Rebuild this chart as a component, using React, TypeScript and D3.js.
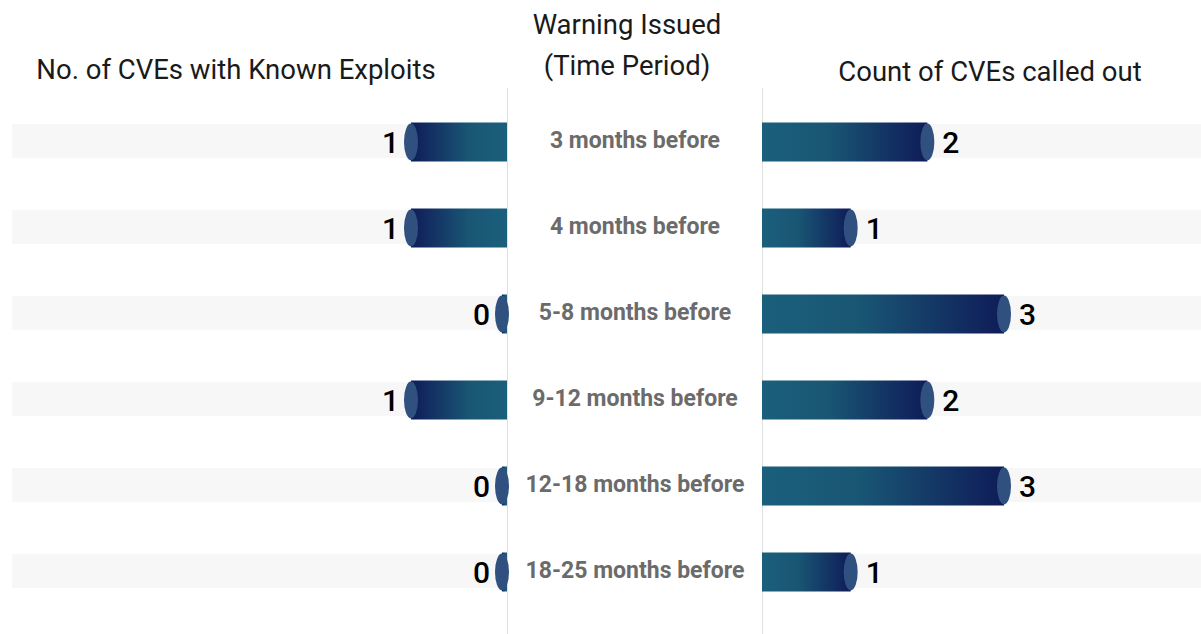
import React from "react";
import * as d3 from "d3";

const categories = [
  "3 months before",
  "4 months before",
  "5-8 months before",
  "9-12 months before",
  "12-18 months before",
  "18-25 months before",
];
const knownExploits = [1, 1, 0, 1, 0, 0];
const calledOut = [2, 1, 3, 2, 3, 1];

const W = 1201;
const H = 634;
const leftEdge = 507;
const rightEdge = 762;

export default function App() {
  const y = d3.scalePoint<string>().domain(categories).range([141, 571]);
  const xL = d3.scaleLinear().domain([0, 1]).range([0, 96]);
  const xR = d3.scaleLinear().domain([0, 3]).range([12, 242]);
  const barH = 39;
  const bandH = 34;
  const rx = 7;
  const minLen = 5;
  const font = "Roboto, 'Noto Sans', sans-serif";

  return (
    <svg width={W} height={H} style={{ position: "absolute", left: 0, top: 0 }} fontFamily={font}>
      <defs>
        <linearGradient id="gl" x1="0" x2="1" y1="0" y2="0">
          <stop offset="0" stopColor="#0f1c58" />
          <stop offset="0.6" stopColor="#195674" />
          <stop offset="1" stopColor="#1a5f7c" />
        </linearGradient>
        <linearGradient id="gr" x1="0" x2="1" y1="0" y2="0">
          <stop offset="0" stopColor="#1a5f7c" />
          <stop offset="0.4" stopColor="#195674" />
          <stop offset="1" stopColor="#0f1c58" />
        </linearGradient>
      </defs>
      <rect width={W} height={H} fill="#fff" />
      {/* headers */}
      <text x={236} y={79} textAnchor="middle" fontSize={27.5} fill="#1a1a1a">
        No. of CVEs with Known Exploits
      </text>
      <text x={627} y={34} textAnchor="middle" fontSize={27.5} fill="#1a1a1a">
        Warning Issued
      </text>
      <text x={627} y={75} textAnchor="middle" fontSize={27.5} fill="#1a1a1a">
        (Time Period)
      </text>
      <text x={990} y={81} textAnchor="middle" fontSize={27.5} fill="#1a1a1a">
        Count of CVEs called out
      </text>
      {/* background bands */}
      {categories.map((c) => (
        <g key={"band" + c}>
          <rect x={12} y={y(c)! - bandH / 2} width={leftEdge - 12} height={bandH} fill="#f7f7f7" />
          <rect x={rightEdge} y={y(c)! - bandH / 2} width={W - rightEdge} height={bandH} fill="#f7f7f7" />
        </g>
      ))}
      {/* divider lines */}
      <line x1={leftEdge + 0.5} x2={leftEdge + 0.5} y1={88} y2={H} stroke="#e0e0e0" />
      <line x1={rightEdge + 0.5} x2={rightEdge + 0.5} y1={88} y2={H} stroke="#e0e0e0" />
      {/* left bars */}
      {categories.map((c, i) => {
        const len = Math.max(minLen, xL(knownExploits[i]));
        const end = leftEdge - len;
        const cy = y(c)! + 1;
        return (
          <g key={"l" + c}>
            <rect x={end} y={cy - barH / 2} width={len} height={barH} fill="url(#gl)" />
            <ellipse cx={end} cy={cy} rx={rx} ry={barH / 2 - 1} fill="#30517f" />
            <text x={end - rx - 5} y={cy + 11} textAnchor="end" fontSize={30} fontWeight={500} fill="#000">
              {knownExploits[i]}
            </text>
          </g>
        );
      })}
      {/* right bars */}
      {categories.map((c, i) => {
        const len = xR(calledOut[i]);
        const end = rightEdge + len;
        const cy = y(c)! + 1;
        return (
          <g key={"r" + c}>
            <rect x={rightEdge} y={cy - barH / 2} width={len} height={barH} fill="url(#gr)" />
            <ellipse cx={end} cy={cy} rx={rx} ry={barH / 2 - 1} fill="#30517f" />
            <text x={end + rx + 8} y={cy + 11} textAnchor="start" fontSize={30} fontWeight={500} fill="#000">
              {calledOut[i]}
            </text>
          </g>
        );
      })}
      {/* category labels */}
      {categories.map((c) => (
        <text key={"c" + c} x={635} y={y(c)! + 7} textAnchor="middle" fontSize={23} fontWeight={700} fill="#6b6b6b">
          {c}
        </text>
      ))}
    </svg>
  );
}
